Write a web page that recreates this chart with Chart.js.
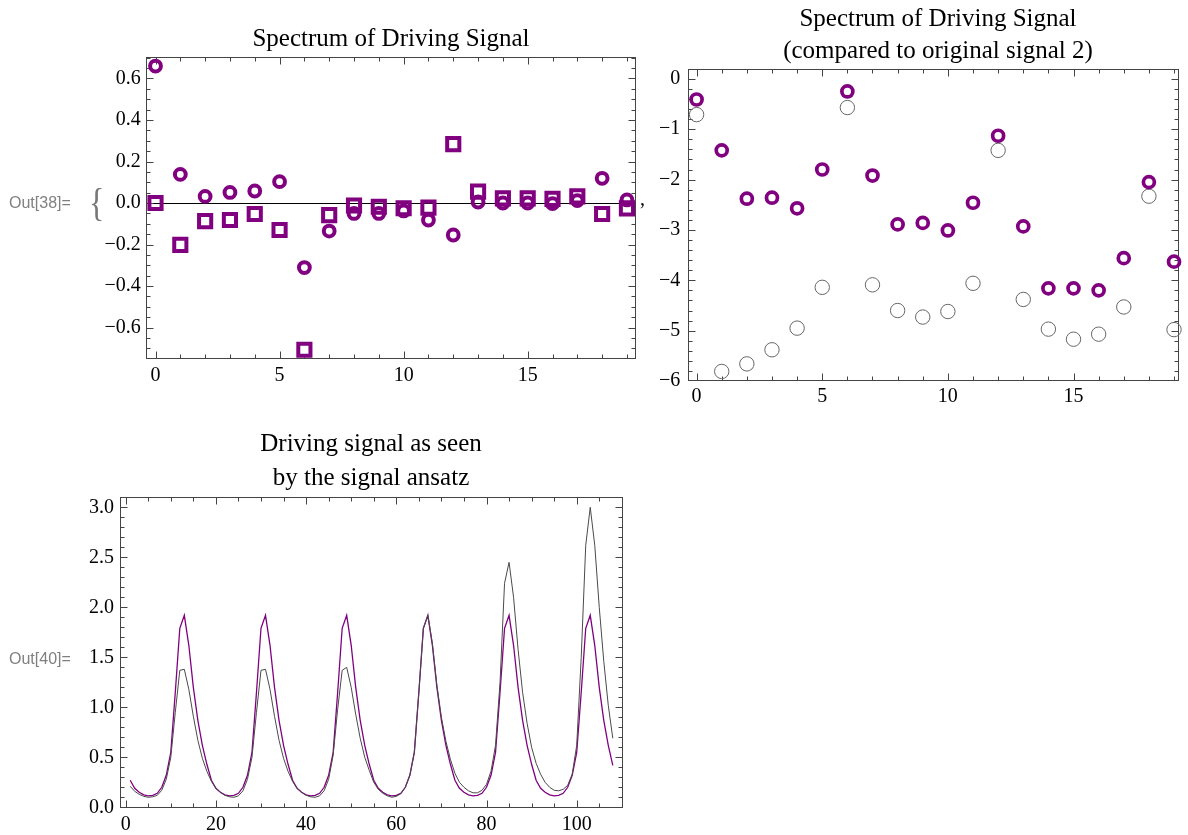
<!DOCTYPE html>
<html><head><meta charset="utf-8">
<script src="https://cdn.jsdelivr.net/npm/chart.js@4.4.0/dist/chart.umd.min.js"></script>
<style>
html,body{margin:0;padding:0;background:#fff;width:1188px;height:835px;overflow:hidden;}
canvas{position:absolute;}
.t{position:absolute;font-family:"Liberation Serif","Times New Roman",serif;font-size:25px;color:#000;text-align:center;white-space:nowrap;}
.out{position:absolute;font-family:"Liberation Sans",Arial,sans-serif;font-size:16px;line-height:20px;color:#808080;white-space:nowrap;}
</style></head><body>
<canvas id="c1"></canvas>
<canvas id="c2"></canvas>
<canvas id="c3"></canvas>
<div class="t" style="left:191px;width:400px;top:21.5px;line-height:32px;">Spectrum of Driving Signal</div>
<div class="t" style="left:738px;width:400px;top:2px;line-height:31.5px;">Spectrum of Driving Signal<br>(compared to original signal 2)</div>
<div class="t" style="left:171px;width:400px;top:425.5px;line-height:34px;">Driving signal as seen<br>by the signal ansatz</div>
<div class="out" style="left:9px;top:193px;">Out[38]=</div>
<div class="out" style="left:9px;top:649px;">Out[40]=</div>
<div class="t" style="left:89px;top:184px;font-size:40px;line-height:38px;color:#777;text-align:left;transform:scaleX(0.8);transform-origin:left top;">{</div>
<div class="t" style="left:640px;top:188px;font-size:20px;line-height:20px;text-align:left;">,</div>
<script>
// ---------- data ----------
const harmonics = [0,1,2,3,4,5,6,7,8,9,10,11,12,13,14,15,16,17,18,19];
const p1Circles = [0.66,0.138,0.032,0.051,0.058,0.103,-0.311,-0.135,-0.05,-0.05,-0.038,-0.082,-0.154,0.005,0.0,0.0,-0.003,0.012,0.119,0.015];
const p1Squares = [0.0,-0.202,-0.087,-0.082,-0.053,-0.13,-0.707,-0.058,-0.012,-0.018,-0.025,-0.022,0.284,0.055,0.022,0.022,0.02,0.032,-0.053,-0.026];
const p2Driving = [-0.41,-1.42,-2.38,-2.36,-2.57,-1.80,-0.25,-1.92,-2.89,-2.86,-3.01,-2.46,-1.13,-2.93,-4.16,-4.16,-4.20,-3.56,-2.05,-3.63];
const p2Original = [-0.71,-5.81,-5.66,-5.38,-4.95,-4.14,-0.57,-4.09,-4.60,-4.73,-4.62,-4.06,-1.42,-4.38,-4.97,-5.17,-5.07,-4.53,-2.33,-4.98];
const p3Ansatz = [
 0.27,0.19,0.15,0.125,0.115,0.12,0.14,0.20,0.32,0.55,1.15,1.79,1.92,1.62,1.20,0.87,0.62,0.43,
 0.27,0.19,0.15,0.125,0.115,0.12,0.14,0.20,0.32,0.55,1.15,1.79,1.92,1.62,1.20,0.87,0.62,0.43,
 0.27,0.19,0.15,0.125,0.115,0.12,0.14,0.20,0.32,0.55,1.15,1.79,1.92,1.62,1.20,0.87,0.62,0.43,
 0.27,0.19,0.15,0.125,0.115,0.12,0.14,0.20,0.32,0.55,1.15,1.79,1.92,1.62,1.20,0.87,0.62,0.43,
 0.27,0.19,0.15,0.125,0.115,0.12,0.14,0.20,0.32,0.55,1.15,1.79,1.92,1.62,1.20,0.87,0.62,0.43,
 0.27,0.19,0.15,0.125,0.115,0.12,0.14,0.20,0.32,0.55,1.15,1.79,1.92,1.62,1.20,0.87,0.62,0.42];
const p3Original = [
 0.21,0.16,0.13,0.11,0.10,0.105,0.12,0.17,0.28,0.50,0.95,1.37,1.38,1.18,0.91,0.67,0.49,0.36,
 0.26,0.19,0.15,0.12,0.105,0.10,0.115,0.165,0.28,0.50,0.95,1.37,1.38,1.18,0.91,0.67,0.49,0.36,
 0.26,0.19,0.15,0.12,0.105,0.10,0.115,0.165,0.28,0.52,0.98,1.37,1.40,1.20,0.93,0.69,0.50,0.37,
 0.25,0.18,0.14,0.115,0.10,0.11,0.135,0.20,0.32,0.55,1.15,1.79,1.92,1.64,1.22,0.90,0.66,0.48,
 0.34,0.25,0.20,0.165,0.145,0.145,0.17,0.23,0.36,0.62,1.25,2.24,2.45,2.10,1.58,1.15,0.84,0.60,
 0.44,0.33,0.25,0.20,0.17,0.165,0.18,0.22,0.33,0.62,1.50,2.62,3.00,2.62,2.00,1.46,1.02,0.69];
const p1XTicks = [0,5,10,15], p1XLabels = ["0","5","10","15"];
const p1YTicks = [-0.6,-0.4,-0.2,0,0.2,0.4,0.6], p1YLabels = ["\u22120.6","\u22120.4","\u22120.2","0.0","0.2","0.4","0.6"];
const p2XTicks = [0,5,10,15], p2XLabels = ["0","5","10","15"];
const p2YTicks = [-6,-5,-4,-3,-2,-1,0], p2YLabels = ["\u22126","\u22125","\u22124","\u22123","\u22122","\u22121","0"];
const p3XTicks = [0,20,40,60,80,100], p3XLabels = ["0","20","40","60","80","100"];
const p3YTicks = [0,0.5,1,1.5,2,2.5,3], p3YLabels = ["0.0","0.5","1.0","1.5","2.0","2.5","3.0"];

// ---------- helpers ----------
const SERIF = '"Liberation Serif","Times New Roman",serif';
const PURPLE = '#800080';
function range(a,b,step){const r=[];const n=Math.round((b-a)/step);for(let k=0;k<=n;k++)r.push(+(a+k*step).toFixed(6));return r;}
const isMajor=(list,v)=>list.some(t=>Math.abs(t-v)<1e-9);

function framePlugin(o){
  return {id:'frame', beforeDatasetsDraw(chart){
    const {ctx, chartArea:a, scales:{x,y}} = chart;
    const L=Math.round(a.left)+0.5, R=Math.round(a.right)-0.5, T=Math.round(a.top)+0.5, B=Math.round(a.bottom)-0.5;
    ctx.save(); ctx.strokeStyle='#444'; ctx.lineWidth=1;
    ctx.beginPath();
    for(const v of o.xMinor){
      const p=Math.round(x.getPixelForValue(v))+0.5; if(p<L-0.1||p>R+0.1) continue;
      const len=isMajor(o.xt,v)?7:4;
      ctx.moveTo(p,B);ctx.lineTo(p,B-len);ctx.moveTo(p,T);ctx.lineTo(p,T+len);
    }
    for(const v of o.yMinor){
      const p=Math.round(y.getPixelForValue(v))+0.5; if(p<T-0.1||p>B+0.1) continue;
      const len=isMajor(o.yt,v)?7:4;
      ctx.moveTo(L,p);ctx.lineTo(L+len,p);ctx.moveTo(R,p);ctx.lineTo(R-len,p);
    }
    ctx.stroke();
    ctx.strokeRect(L,T,R-L,B-T);
    ctx.restore();
  }};
}

function makeChart(o){
  const cv=document.getElementById(o.id);
  cv.style.left=o.cl+'px';cv.style.top=o.ct+'px';
  cv.style.width=o.cw+'px';cv.style.height=o.ch+'px';
  cv.width=o.cw;cv.height=o.ch;
  const XH=26;
  const yW=o.box.l-o.cl;
  return new Chart(cv,{
    type:'scatter',
    data:{datasets:o.datasets},
    options:{
      responsive:false,animation:false,devicePixelRatio:1,
      layout:{padding:{left:0,top:o.box.t-o.ct,right:o.cl+o.cw-o.box.r,bottom:o.ct+o.ch-o.box.b-XH}},
      plugins:{legend:{display:false},tooltip:{enabled:false},title:{display:false}},
      scales:{
        x:{type:'linear',min:o.x[0],max:o.x[1],
           grid:{display:false,drawTicks:false},border:{display:false},
           afterBuildTicks:s=>{s.ticks=o.xt.map(v=>({value:v}));},
           afterFit:s=>{s.height=XH;},
           ticks:{autoSkip:false,maxRotation:0,minRotation:0,padding:4,color:'#000',
                  font:{family:SERIF,size:20},callback:(v,i)=>o.xl[i]}},
        y:{type:'linear',min:o.y[0],max:o.y[1],
           grid:{display:!!o.zero,drawTicks:false,lineWidth:1,
                 color:c=>(o.zero&&c.tick&&Math.abs(c.tick.value)<1e-9)?'#000':'rgba(0,0,0,0)'},
           border:{display:false},
           afterBuildTicks:s=>{s.ticks=o.yt.map(v=>({value:v}));},
           afterFit:s=>{s.width=yW;},
           ticks:{autoSkip:false,padding:o.yPad,color:'#000',
                  font:{family:SERIF,size:20},callback:(v,i)=>o.yl[i]}}
      }
    },
    plugins:[framePlugin(o)]
  });
}

// ---------- chart 1 ----------
makeChart({
  id:'c1',cl:30,ct:26,cw:630,ch:380,
  box:{l:145.7,t:56.7,r:636,b:359.3},
  x:[-0.395,19.365],y:[-0.753,0.705],
  xt:p1XTicks,xl:p1XLabels,yt:p1YTicks,yl:p1YLabels,
  xMinor:range(0,19,1),yMinor:range(-0.75,0.70,0.05),
  yPad:5,zero:true,
  datasets:[
    {label:'re',data:harmonics.map((h,i)=>({x:h,y:p1Circles[i]})),pointStyle:'circle',pointRadius:5.4,
     pointBorderWidth:4,borderColor:PURPLE,pointBorderColor:PURPLE,backgroundColor:'rgba(0,0,0,0)',showLine:false,clip:false},
    {label:'im',data:harmonics.map((h,i)=>({x:h,y:p1Squares[i]})),pointStyle:'rect',pointRadius:8.6,
     pointBorderWidth:4,borderColor:PURPLE,pointBorderColor:PURPLE,backgroundColor:'rgba(0,0,0,0)',showLine:false,clip:false}
  ]
});

// ---------- chart 2 ----------
makeChart({
  id:'c2',cl:650,ct:40,cw:538,ch:380,
  box:{l:688.3,t:69.3,r:1187,b:381},
  x:[-0.33,19.19],y:[-6.0,0.19],
  xt:p2XTicks,xl:p2XLabels,yt:p2YTicks,yl:p2YLabels,
  xMinor:range(0,19,1),yMinor:range(-6,0,0.2),
  yPad:8,zero:false,
  datasets:[
    {label:'driving',data:harmonics.map((h,i)=>({x:h,y:p2Driving[i]})),pointStyle:'circle',pointRadius:5.5,
     pointBorderWidth:3.7,borderColor:PURPLE,pointBorderColor:PURPLE,backgroundColor:'rgba(0,0,0,0)',showLine:false,clip:false},
    {label:'original',data:harmonics.map((h,i)=>({x:h,y:p2Original[i]})),pointStyle:'circle',pointRadius:7.2,
     pointBorderWidth:1,borderColor:'#666',pointBorderColor:'#666',backgroundColor:'rgba(0,0,0,0)',showLine:false,clip:false}
  ]
});

// ---------- chart 3 ----------
makeChart({
  id:'c3',cl:20,ct:466,cw:630,ch:369,
  box:{l:120,t:496.7,r:623.3,b:808.3},
  x:[-1.26,110.33],y:[-0.01,3.106],
  xt:p3XTicks,xl:p3XLabels,yt:p3YTicks,yl:p3YLabels,
  xMinor:range(0,110,5),yMinor:range(0,3.1,0.1),
  yPad:6,zero:false,
  datasets:[
    {label:'original',data:p3Original.map((v,i)=>({x:i+1,y:v})),showLine:true,pointRadius:0,
     borderColor:'#4a4a4a',borderWidth:1,tension:0,fill:false},
    {label:'ansatz',data:p3Ansatz.map((v,i)=>({x:i+1,y:v})),showLine:true,pointRadius:0,
     borderColor:PURPLE,borderWidth:1.3,tension:0,fill:false}
  ]
});
</script>
</body></html>
